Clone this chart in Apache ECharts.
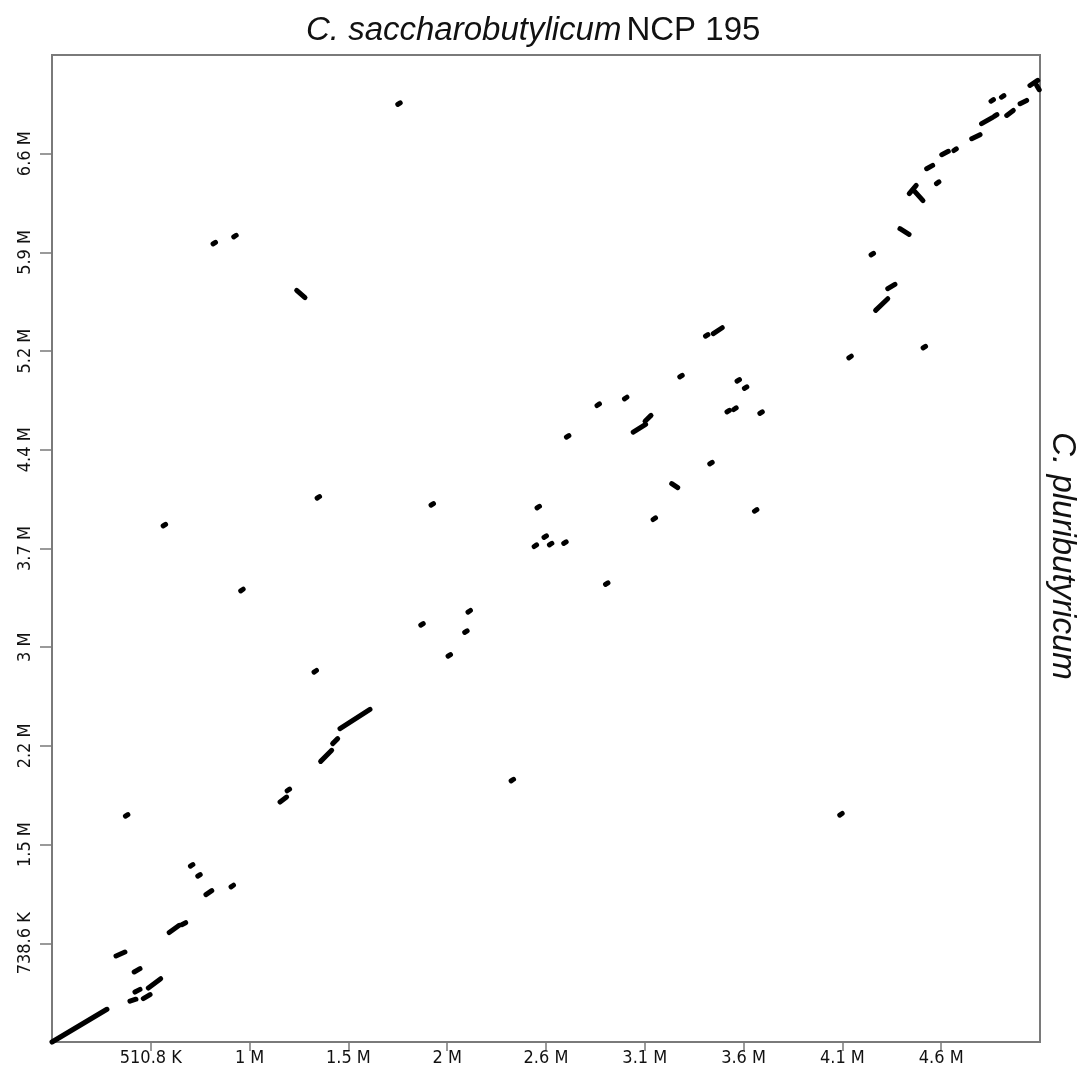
<!DOCTYPE html>
<html><head><meta charset="utf-8">
<script src="https://cdn.jsdelivr.net/npm/echarts@6/dist/echarts.min.js"></script>
<style>html,body{margin:0;padding:0;background:#fff}#c{width:1083px;height:1090px}</style>
</head><body><div id="c"></div>
<script>
// Genome lengths (Mb) and axis ticks
const xGenomeLength = 5.108;
const yGenomeLength = 7.386;
const xTickValues = [0.5108, 1.0216, 1.5324, 2.0432, 2.554, 3.0648, 3.5756, 4.0864, 4.5972];
const xTickLabels = ['510.8 K', '1 M', '1.5 M', '2 M', '2.6 M', '3.1 M', '3.6 M', '4.1 M', '4.6 M'];
const yTickValues = [0.7386, 1.4772, 2.2158, 2.9544, 3.693, 4.4316, 5.1702, 5.9088, 6.6474];
const yTickLabels = ['738.6 K', '1.5 M', '2.2 M', '3 M', '3.7 M', '4.4 M', '5.2 M', '5.9 M', '6.6 M'];

// Alignment segments: [xStart, yStart, xEnd, yEnd] (Mb)
const segments = [
  [0, 0, 0.284, 0.245],
  [0.403, 0.305, 0.434, 0.320],
  [0.429, 0.374, 0.455, 0.394],
  [0.472, 0.325, 0.507, 0.355],
  [0.498, 0.404, 0.562, 0.474],
  [0.425, 0.524, 0.455, 0.549],
  [0.331, 0.644, 0.377, 0.673],
  [0.606, 0.819, 0.658, 0.873],
  [0.671, 0.878, 0.691, 0.893],
  [0.796, 1.103, 0.826, 1.133],
  [1.179, 1.796, 1.213, 1.833],
  [1.389, 2.100, 1.446, 2.183],
  [1.451, 2.233, 1.477, 2.270],
  [1.489, 2.345, 1.644, 2.489],
  [1.265, 5.625, 1.308, 5.570],
  [3.005, 4.564, 3.069, 4.622],
  [3.066, 4.645, 3.097, 4.689],
  [3.204, 4.178, 3.235, 4.148],
  [3.419, 5.301, 3.465, 5.345],
  [5.056, 7.158, 5.096, 7.196],
  [5.091, 7.158, 5.104, 7.126],
  [4.936, 6.934, 4.970, 6.971],
  [5.005, 7.022, 5.039, 7.046],
  [4.806, 6.872, 4.861, 6.917],
  [4.755, 6.760, 4.798, 6.790],
  [4.600, 6.640, 4.634, 6.665],
  [4.522, 6.535, 4.553, 6.560],
  [4.432, 6.348, 4.468, 6.410],
  [4.460, 6.365, 4.503, 6.296],
  [4.384, 6.086, 4.431, 6.044],
  [4.321, 5.637, 4.358, 5.670],
  [4.258, 5.475, 4.321, 5.562]
];

// Short matches drawn as dots: [x, y] (Mb)
const dots = [
  [0.386, 1.696], [0.760, 1.247], [0.722, 1.322], [0.932, 1.167], [1.222, 1.886],
  [2.380, 1.960], [4.079, 1.704], [1.377, 4.076], [0.581, 3.868], [0.982, 3.382],
  [1.361, 2.774], [0.839, 5.978], [0.946, 6.031], [1.794, 7.022], [3.252, 4.983],
  [2.966, 4.819], [2.824, 4.769], [2.666, 4.532], [1.966, 4.023], [2.514, 4.003],
  [3.114, 3.916], [2.550, 3.782], [2.499, 3.714], [2.578, 3.726], [2.652, 3.737],
  [2.868, 3.430], [2.157, 3.223], [1.913, 3.125], [2.140, 3.071], [2.054, 2.893],
  [3.548, 4.951], [3.586, 4.897], [3.496, 4.721], [3.531, 4.739], [3.666, 4.710],
  [3.407, 4.332], [3.638, 3.978], [3.385, 5.288], [4.861, 7.046], [4.915, 7.076],
  [4.879, 6.934], [4.669, 6.677], [4.579, 6.430], [4.241, 5.896], [4.126, 5.126],
  [4.510, 5.200]
];

const labelFont = '"Liberation Sans Narrow", "Arial Narrow", "DejaVu Sans Condensed", sans-serif';
const mainFont = '"Liberation Sans", Arial, Helvetica, sans-serif';
const axisGray = '#7a7a7a';

function nearestLabel(vals, labels, v) {
  let best = 0, bd = Infinity;
  vals.forEach((t, i) => { const d = Math.abs(t - v); if (d < bd) { bd = d; best = i; } });
  return bd < 1e-6 ? labels[best] : '';
}

const chart = echarts.init(document.getElementById('c'), null, { renderer: 'canvas' });
chart.setOption({
  animation: false,
  backgroundColor: '#ffffff',
  grid: { left: 52, top: 55, width: 988, height: 987, show: true, borderColor: axisGray, borderWidth: 2, backgroundColor: 'transparent' },
  xAxis: {
    type: 'value', min: 0, max: xGenomeLength,
    splitLine: { show: false },
    axisLine: { show: false },
    axisTick: { show: true, length: 9, inside: false, customValues: xTickValues, lineStyle: { color: axisGray, width: 1.5 } },
    axisLabel: { show: true, margin: 7, customValues: xTickValues, color: '#111', fontFamily: labelFont, fontSize: 18,
      formatter: v => nearestLabel(xTickValues, xTickLabels, v) }
  },
  yAxis: {
    type: 'value', min: 0, max: yGenomeLength,
    splitLine: { show: false },
    axisLine: { show: false },
    axisTick: { show: true, length: 12, inside: false, customValues: yTickValues, lineStyle: { color: axisGray, width: 1.5 } },
    axisLabel: { show: true, margin: 18, rotate: 90, customValues: yTickValues, color: '#111', fontFamily: labelFont, fontSize: 18,
      formatter: v => nearestLabel(yTickValues, yTickLabels, v) }
  },
  title: {
    text: '{i|C. saccharobutylicum} {n|NCP 195}',
    left: 301, top: 9,
    textStyle: {
      fontWeight: 'normal',
      rich: {
        i: { fontFamily: mainFont, fontSize: 33, fontStyle: 'italic', fontWeight: 'normal', color: '#111' },
        n: { fontFamily: mainFont, fontSize: 33, fontWeight: 'normal', color: '#111' }
      }
    }
  },
  graphic: [{
    type: 'text', x: 1062, y: 556, rotation: -Math.PI / 2,
    style: { text: 'C. pluributyricum', fontFamily: mainFont, fontSize: 33, fontStyle: 'italic', fill: '#111', align: 'center', verticalAlign: 'middle' }
  }],
  series: [
    {
      type: 'custom',
      coordinateSystem: 'cartesian2d',
      data: segments,
      encode: { x: [0, 2], y: [1, 3] },
      renderItem: (params, api) => {
        const p1 = api.coord([api.value(0), api.value(1)]);
        const p2 = api.coord([api.value(2), api.value(3)]);
        return { type: 'line', shape: { x1: p1[0], y1: p1[1], x2: p2[0], y2: p2[1] },
          style: { stroke: '#000', lineWidth: 5, lineCap: 'round' } };
      }
    },
    {
      type: 'custom',
      coordinateSystem: 'cartesian2d',
      data: dots,
      encode: { x: 0, y: 1 },
      renderItem: (params, api) => {
        const p = api.coord([api.value(0), api.value(1)]);
        return { type: 'line', shape: { x1: p[0] - 1.2, y1: p[1] + 0.8, x2: p[0] + 1.2, y2: p[1] - 0.8 },
          style: { stroke: '#000', lineWidth: 5, lineCap: 'round' } };
      }
    }
  ]
});
</script></body></html>
